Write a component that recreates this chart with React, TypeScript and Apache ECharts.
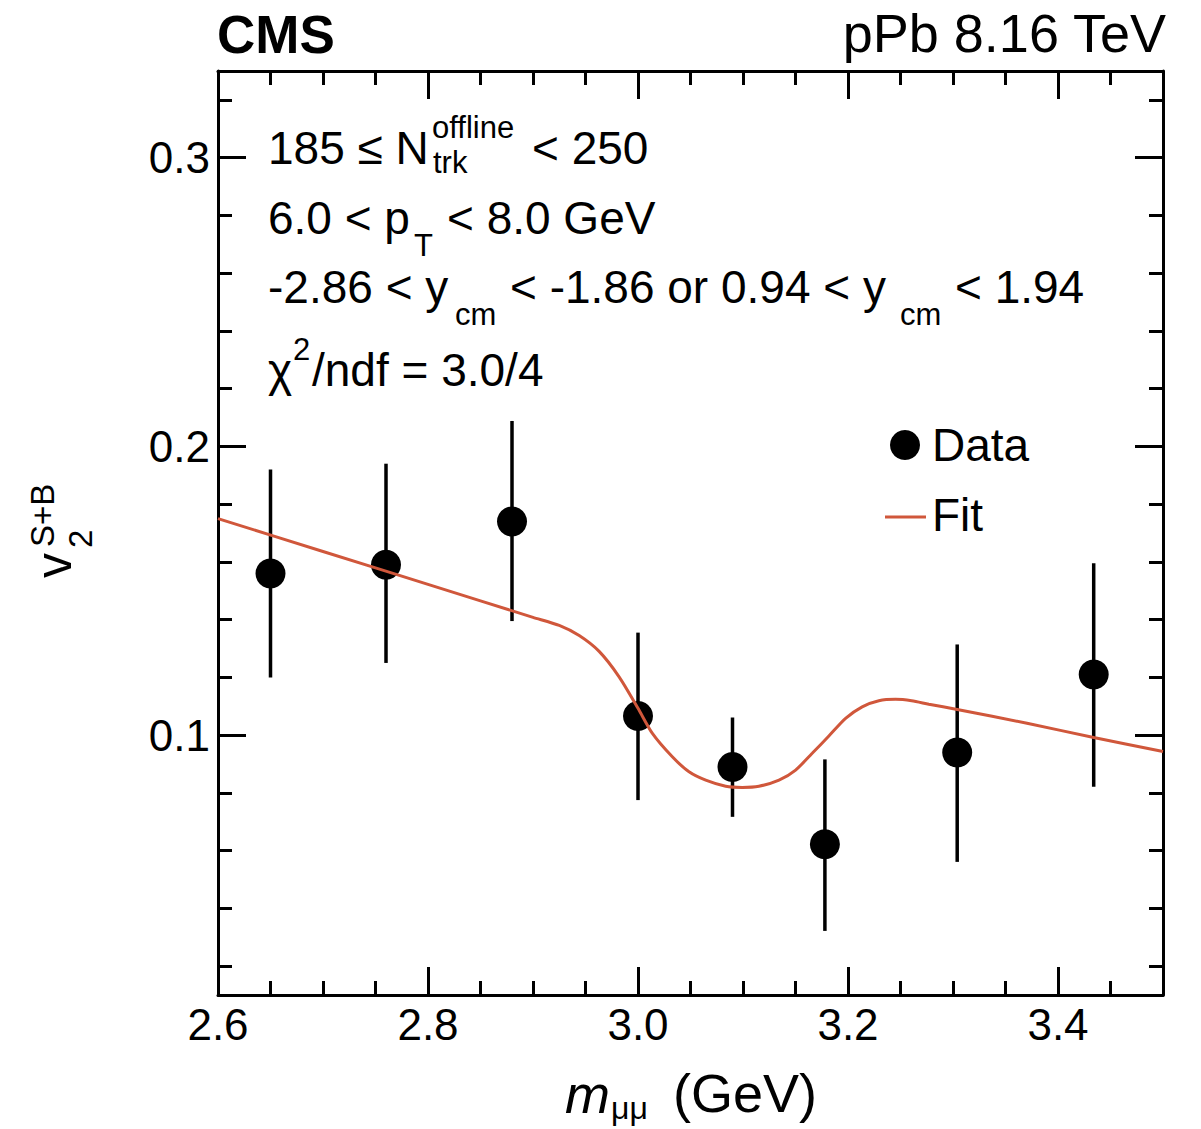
import React, { useEffect, useRef } from "react";
import * as echarts from "echarts";

// Measured v2 (signal + background) versus dimuon mass
const massPoints = [2.65, 2.76, 2.88, 3.0, 3.09, 3.178, 3.304, 3.434];
const v2Values = [0.156, 0.159, 0.174, 0.1066, 0.089, 0.0622, 0.094, 0.121];
const v2Upper = [0.192, 0.194, 0.2088, 0.1355, 0.1061, 0.0916, 0.1314, 0.1595];
const v2Lower = [0.12, 0.125, 0.1395, 0.0775, 0.0717, 0.0322, 0.0561, 0.0821];

// Fit curve samples
const fitMass = [
  2.6, 2.7, 2.8, 2.9, 2.925, 2.944, 2.963, 2.982, 3.0, 3.0137, 3.0327, 3.0486, 3.0645,
  3.0835, 3.0993, 3.1152, 3.1343, 3.1501, 3.1659, 3.1818, 3.1977, 3.2135, 3.2294,
  3.2453, 3.2606, 3.277, 3.304, 3.3705, 3.434, 3.5,
];
const fitV2 = [
  0.175, 0.1636, 0.1522, 0.1408, 0.138, 0.1345, 0.129, 0.1202, 0.1093, 0.1006, 0.0925,
  0.0873, 0.0844, 0.0823, 0.0819, 0.0823, 0.0844, 0.0879, 0.0937, 0.0997, 0.1058,
  0.1098, 0.1119, 0.1124, 0.1119, 0.1107, 0.1089, 0.1041, 0.0992, 0.0943,
];

// Tick positions
const xMajorTicks = [2.6, 2.8, 3.0, 3.2, 3.4];
const xMinorTicks = [2.65, 2.7, 2.75, 2.85, 2.9, 2.95, 3.05, 3.1, 3.15, 3.25, 3.3, 3.35, 3.45];
const yMajorTicks = [0.1, 0.2, 0.3];
const yMinorTicks = [0.02, 0.04, 0.06, 0.08, 0.12, 0.14, 0.16, 0.18, 0.22, 0.24, 0.26, 0.28, 0.32];

const X_MIN = 2.6;
const X_MAX = 3.5;
const Y_MIN = 0.01;
const Y_MAX = 0.33;

const FONT = '"Liberation Sans", Arial, Helvetica, sans-serif';
const FIT_COLOR = "#d0573b";

function axis(
  dim: "x" | "y",
  position: string,
  ticks: number[],
  length: number,
  showLine: boolean,
  showLabel: boolean
) {
  return {
    type: "value",
    min: dim === "x" ? X_MIN : Y_MIN,
    max: dim === "x" ? X_MAX : Y_MAX,
    position,
    axisLine: { show: showLine, onZero: false, lineStyle: { color: "#000", width: 3 } },
    axisTick: {
      show: true,
      inside: true,
      length,
      customValues: ticks,
      lineStyle: { color: "#000", width: 3 },
    },
    axisLabel: {
      show: showLabel,
      customValues: ticks,
      showMinLabel: true,
      showMaxLabel: true,
      formatter: (v: number) => v.toFixed(1),
      fontSize: 44,
      fontFamily: FONT,
      color: "#000",
      margin: dim === "x" ? 7 : 8,
    },
    splitLine: { show: false },
    minorTick: { show: false },
  };
}

function txt(x: number, y: number, text: string, size: number, extra: any = {}) {
  return {
    type: "text",
    x,
    y,
    style: {
      text,
      fontSize: size,
      fontFamily: FONT,
      fill: "#000",
      textAlign: "left",
      textVerticalAlign: "middle",
      ...extra,
    },
  };
}

export default function App() {
  const ref = useRef<HTMLDivElement>(null);

  useEffect(() => {
    if (!ref.current) return;
    const chart = echarts.init(ref.current, null, { renderer: "svg" });

    const main = 46;
    const small = 31;

    const option: any = {
      animation: false,
      backgroundColor: "#fff",
      grid: { left: 218, top: 71, width: 945, height: 924, containLabel: false },
      xAxis: [
        axis("x", "bottom", xMajorTicks, 28, true, true),
        axis("x", "bottom", xMinorTicks, 14, false, false),
        axis("x", "top", xMajorTicks, 28, true, false),
        axis("x", "top", xMinorTicks, 14, false, false),
      ],
      yAxis: [
        axis("y", "left", yMajorTicks, 28, true, true),
        axis("y", "left", yMinorTicks, 14, false, false),
        axis("y", "right", yMajorTicks, 28, true, false),
        axis("y", "right", yMinorTicks, 14, false, false),
      ],
      series: [
        {
          type: "custom",
          name: "errors",
          xAxisIndex: 0,
          yAxisIndex: 0,
          data: massPoints.map((m, i) => [m, v2Lower[i], v2Upper[i]]),
          encode: { x: 0, y: [1, 2] },
          renderItem: (params: any, api: any) => {
            const lo = api.coord([api.value(0), api.value(1)]);
            const hi = api.coord([api.value(0), api.value(2)]);
            return {
              type: "line",
              shape: { x1: lo[0], y1: lo[1], x2: hi[0], y2: hi[1] },
              style: { stroke: "#000", lineWidth: 3.5 },
            };
          },
          z: 2,
        },
        {
          type: "scatter",
          name: "Data",
          xAxisIndex: 0,
          yAxisIndex: 0,
          data: massPoints.map((m, i) => [m, v2Values[i]]),
          symbol: "circle",
          symbolSize: 30,
          itemStyle: { color: "#000", opacity: 1 },
          emphasis: { disabled: true },
          z: 3,
        },
        {
          type: "line",
          name: "Fit",
          xAxisIndex: 0,
          yAxisIndex: 0,
          data: fitMass.map((m, i) => [m, fitV2[i]]),
          smooth: 0.25,
          showSymbol: false,
          symbol: "none",
          lineStyle: { color: FIT_COLOR, width: 3 },
          z: 4,
        },
      ],
      graphic: [
        // header
        txt(217, 34, "CMS", 53, { fontWeight: "bold" }),
        txt(1166, 33, "pPb 8.16 TeV", 54, { textAlign: "right" }),

        // selection text
        txt(268, 148, "185 ≤ N", main),
        txt(432, 127, "offline", small),
        txt(433, 162, "trk", small),
        txt(532, 148, "< 250", main),

        txt(268, 218, "6.0 < p", main),
        txt(414, 245, "T", small),
        txt(447, 218, "< 8.0 GeV", main),

        txt(268, 287, "-2.86 < y", main),
        txt(455, 314, "cm", small),
        txt(510, 287, "< -1.86 or 0.94 < y", main),
        txt(900, 314, "cm", small),
        txt(955, 287, "< 1.94", main),

        txt(268, 370, "χ", main),
        txt(293, 349, "2", small),
        txt(312, 370, "/ndf = 3.0/4", main),

        // legend
        {
          type: "circle",
          shape: { cx: 905, cy: 445, r: 15 },
          style: { fill: "#000" },
        },
        txt(932, 445, "Data", main),
        {
          type: "line",
          shape: { x1: 885, y1: 517, x2: 926, y2: 517 },
          style: { stroke: FIT_COLOR, lineWidth: 3 },
        },
        txt(932, 515, "Fit", main),

        // x axis title
        txt(565, 1094, "m", 54, { fontStyle: "italic" }),
        txt(611, 1108, "μμ", 32),
        txt(673, 1093, "(GeV)", 54),

        // y axis title, rotated
        {
          type: "group",
          x: 54,
          y: 578,
          rotation: Math.PI / 2,
          children: [
            txt(0, 0, "v", 50),
            txt(30, 26, "2", 33),
            txt(31, -12, "S+B", 33),
          ],
        },
      ],
    };

    chart.setOption(option);
    return () => chart.dispose();
  }, []);

  return (
    <div
      ref={ref}
      style={{ position: "fixed", left: 0, top: 0, width: 1201, height: 1129, background: "#fff" }}
    />
  );
}
